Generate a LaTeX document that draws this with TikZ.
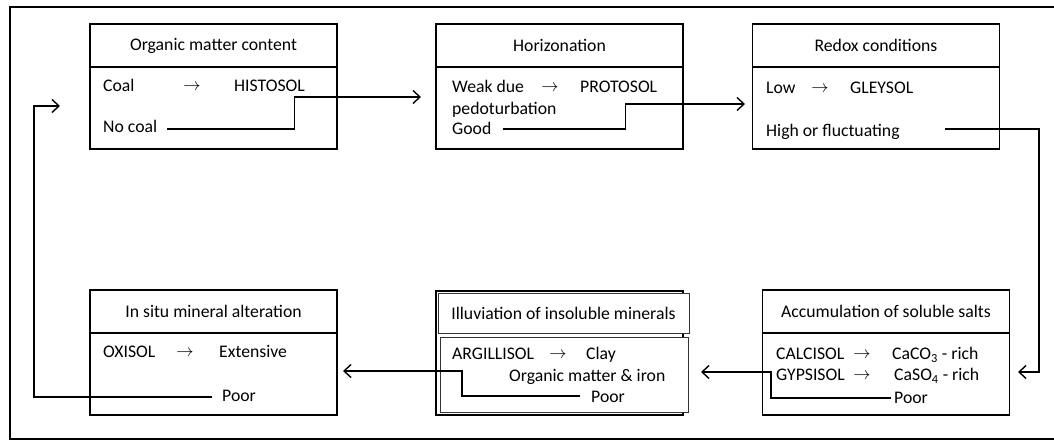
\documentclass[tikz,border=0pt]{standalone}
\usepackage{fontspec}
\setmainfont{Carlito}
\usetikzlibrary{arrows.meta}

\begin{document}
\begin{tikzpicture}[x=1pt, y=-1pt,
    every node/.style={font=\fontsize{17.7}{21}\selectfont},
    head/.style={draw, line width=1.8pt, minimum width=247pt, minimum height=43pt, inner sep=0pt, fill=white},
    body/.style={draw, line width=1.8pt, minimum width=247pt, minimum height=82pt, inner sep=0pt, fill=white},
    thinbox/.style={draw=black!80, line width=0.9pt, inner sep=0pt, fill=white},
    txt/.style={anchor=west, inner sep=0pt, text height=12.5pt, text depth=3.5pt},
    arr/.style={anchor=center, inner sep=0pt},
    flow/.style={line width=1.4pt, -{Straight Barb[length=7pt,width=13pt]}}]
            \useasboundingbox (0,0) rectangle (1054,441);
            \draw[line width=2.5pt] (1060,7) -- (10,7) -- (10,439) -- (1060,439);

            % top row
            \node[head] (organichead) at (213.5,45.5) {Organic matter content};
            \node[body] (organicbody) at (213.5,108)  {};
            \node[head, line width=2.5pt] (horizhead) at (559.5,45.5) {Horizonation};
            \node[body, line width=2.5pt] (horizbody) at (559.5,108)  {};
            \node[head] (redoxhead) at (876,45.5) {Redox conditions};
            \node[body] (redoxbody) at (876,108)  {};

            % bottom row
            \node[head] (insituhead) at (213.5,311.5) {In situ mineral alteration};
            \node[body] (insitubody) at (213.5,374)   {};
            \draw[line width=2pt] (436,291) rectangle (683,415);
            \node[thinbox, minimum width=251pt, minimum height=40pt] (illuhead) at (563.5,313) {Illuviation of insoluble minerals};
            \node[thinbox, minimum width=248pt, minimum height=75pt] (illubody) at (564.5,374.5) {};
            \node[head] (accumhead) at (886,311.5) {Accumulation of soluble salts};
            \node[body] (accumbody) at (886,374)   {};

            % texts
            \node[txt] (coal)      at (103,87)  {Coal};
            \node[arr] (coalarr)   at (192,87)  {$\rightarrow$};
            \node[txt] (histosol)  at (234,87)  {HISTOSOL};
            \node[txt] (nocoal)    at (103,128) {No coal};

            \node[txt] (weakdue)   at (452,88)  {Weak due};
            \node[arr] (weakarr)   at (550,88)  {$\rightarrow$};
            \node[txt] (protosol)  at (580,88)  {PROTOSOL};
            \node[txt] (pedo)      at (452,110) {pedoturbation};
            \node[txt] (good)      at (452,130) {Good};

            \node[txt] (low)       at (766,89)  {Low};
            \node[arr] (lowarr)    at (820,89)  {$\rightarrow$};
            \node[txt] (gleysol)   at (850,89)  {GLEYSOL};
            \node[txt] (high)      at (766,132) {High or fluctuating};

            \node[txt] (oxisol)    at (103,353) {OXISOL};
            \node[arr] (oxiarr)    at (185,353) {$\rightarrow$};
            \node[txt] (extensive) at (219,353) {Extensive};
            \node[txt] (poora)     at (222,397) {Poor};

            \node[txt] (argillisol) at (452,355) {ARGILLISOL};
            \node[arr] (argiarr)    at (558,355) {$\rightarrow$};
            \node[txt] (clay)       at (586,355) {Clay};
            \node[txt] (omiron)     at (509,377) {Organic matter \& iron};
            \node[txt] (poorb)      at (591,398) {Poor};

            \node[txt] (calcisol)  at (776,355) {CALCISOL};
            \node[arr] (calciarr)  at (862,355) {$\rightarrow$};
            \node[txt] (caco)      at (892,355) {CaCO\textsubscript{3} - rich};
            \node[txt] (gypsisol)  at (776,376) {GYPSISOL};
            \node[arr] (gypsarr)   at (862,376) {$\rightarrow$};
            \node[txt] (caso)      at (894,376) {CaSO\textsubscript{4} - rich};
            \node[txt] (poorc)     at (894,399) {Poor};

            % arrow ends
            \coordinate (inHoriz)   at (421,97);
            \coordinate (inRedox)   at (745,104);
            \coordinate (inAccum)   at (1018,372);
            \coordinate (inIlluv)   at (701,372);
            \coordinate (inInsitu)  at (343,371);
            \coordinate (inOrganic) at (60,106);

            \draw[flow] ([xshift=10pt,yshift=-1pt]nocoal.east) -- ++(127,0) |- (inHoriz);
            \draw[flow] ([xshift=11pt,yshift=1pt]good.east)    -- ++(123,0) |- (inRedox);
            \draw[flow] ([xshift=45pt,yshift=3pt]high.east)    -- ++(94,0)  |- (inAccum);
            \draw[flow] ([xshift=-3pt,yshift=1pt]poorc.west)   -- ++(-120,0) |- (inIlluv);
            \draw[flow] ([xshift=-11pt,yshift=2pt]poorb.west)  -- ++(-118,0) |- (inInsitu);
            \draw[flow] ([xshift=-10pt]poora.west)             -- ++(-178,0) |- (inOrganic);
        \end{tikzpicture}
\end{document}
